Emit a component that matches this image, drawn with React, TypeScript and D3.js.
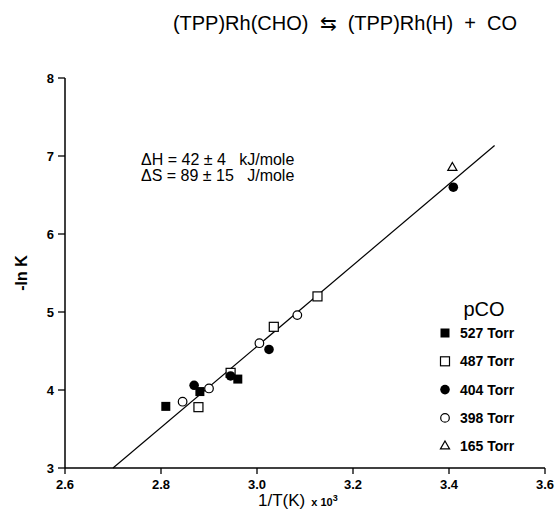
import React from "react";
import * as d3 from "d3";

const xTicks = [2.6, 2.8, 3.0, 3.2, 3.4, 3.6];
const yTicks = [3, 4, 5, 6, 7, 8];

const sq527X = [2.81, 2.881, 2.96];
const sq527Y = [3.79, 3.98, 4.14];
const sq487X = [2.878, 2.945, 3.035, 3.126];
const sq487Y = [3.78, 4.22, 4.81, 5.2];
const fc404X = [2.869, 2.945, 3.025, 3.409];
const fc404Y = [4.06, 4.18, 4.52, 6.6];
const oc398X = [2.845, 2.9, 3.005, 3.084];
const oc398Y = [3.85, 4.02, 4.6, 4.96];
const tri165X = [3.407];
const tri165Y = [6.85];

const fitX = [2.7, 3.495];
const fitY = [3.0, 7.134];

const legendLabels = ["527 Torr", "487 Torr", "404 Torr", "398 Torr", "165 Torr"];
const legendKinds = ["fsq", "osq", "fci", "oci", "tri"];

const FONT = "'Liberation Sans', Arial, sans-serif";

function Marker({ kind, cx, cy }: { kind: string; cx: number; cy: number }) {
  const s = 9;
  if (kind === "fsq")
    return <rect x={cx - s / 2} y={cy - s / 2} width={s} height={s} fill="#000" />;
  if (kind === "osq")
    return <rect x={cx - s / 2} y={cy - s / 2} width={s} height={s} fill="#fff" stroke="#000" strokeWidth={1.2} />;
  if (kind === "fci") return <circle cx={cx} cy={cy} r={4.8} fill="#000" />;
  if (kind === "oci") return <circle cx={cx} cy={cy} r={4.3} fill="#fff" stroke="#000" strokeWidth={1.2} />;
  const sym = d3.symbol().type(d3.symbolTriangle).size(36)();
  return <path d={sym as string} transform={`translate(${cx},${cy})`} fill="#fff" stroke="#000" strokeWidth={1.2} />;
}

export default function App() {
  const x = d3.scaleLinear().domain([2.6, 3.6]).range([65, 545]);
  const y = d3.scaleLinear().domain([3, 8]).range([468, 78]);
  const line = d3.line<number>().x((d, i) => x(fitX[i])).y((d, i) => y(fitY[i]));

  const series: { kind: string; xs: number[]; ys: number[] }[] = [
    { kind: "oci", xs: oc398X, ys: oc398Y },
    { kind: "osq", xs: sq487X, ys: sq487Y },
    { kind: "fci", xs: fc404X, ys: fc404Y },
    { kind: "fsq", xs: sq527X, ys: sq527Y },
    { kind: "tri", xs: tri165X, ys: tri165Y },
  ];

  return (
    <svg width={555} height={512} style={{ position: "absolute", left: 0, top: 0, background: "#fff" }}>
      <rect width={555} height={512} fill="#fff" />
      <text x={345} y={30} textAnchor="middle" fontFamily={FONT} fontSize={20} fill="#000" style={{ whiteSpace: "pre" }}>
        {"(TPP)Rh(CHO)  ⇆  (TPP)Rh(H)  +  CO"}
      </text>
      {/* axes */}
      <line x1={x(2.6)} x2={x(3.6)} y1={y(3)} y2={y(3)} stroke="#000" strokeWidth={1.5} />
      <line x1={x(2.6)} x2={x(2.6)} y1={y(3)} y2={y(8)} stroke="#000" strokeWidth={1.5} />
      {xTicks.map((t) => (
        <g key={"xt" + t}>
          <line x1={x(t)} x2={x(t)} y1={y(3)} y2={y(3) + 6} stroke="#000" strokeWidth={1.3} />
          <text x={x(t)} y={y(3) + 21} textAnchor="middle" fontFamily={FONT} fontSize={13} fontWeight="bold">
            {d3.format(".1f")(t)}
          </text>
        </g>
      ))}
      {yTicks.map((t) => (
        <g key={"yt" + t}>
          <line x1={x(2.6) - 7} x2={x(2.6)} y1={y(t)} y2={y(t)} stroke="#000" strokeWidth={1.3} />
          <text x={x(2.6) - 11} y={y(t) + 5} textAnchor="end" fontFamily={FONT} fontSize={13} fontWeight="bold">
            {t}
          </text>
        </g>
      ))}
      <text transform={`translate(27,${(y(3) + y(8)) / 2}) rotate(-90)`} textAnchor="middle" fontFamily={FONT} fontSize={16} fontWeight="bold">
        -ln K
      </text>
      <text x={258} y={506} fontFamily={FONT} fontSize={17}>
        1/T(K)
        <tspan dx={6} fontSize={11} fontWeight="bold">x 10</tspan>
        <tspan fontSize={9} fontWeight="bold" dy={-5}>3</tspan>
      </text>
      {/* fit line */}
      <path d={line(fitX) as string} fill="none" stroke="#000" strokeWidth={1.2} />
      {/* points */}
      {series.map((s) =>
        s.xs.map((v, i) => <Marker key={s.kind + i} kind={s.kind} cx={x(v)} cy={y(s.ys[i])} />)
      )}
      {/* annotation */}
      <text x={141} y={165} fontFamily={FONT} fontSize={16} style={{ whiteSpace: "pre" }}>{"ΔH = 42 ± 4   kJ/mole"}</text>
      <text x={141} y={181} fontFamily={FONT} fontSize={16} style={{ whiteSpace: "pre" }}>{"ΔS = 89 ± 15   J/mole"}</text>
      {/* legend */}
      <text x={484} y={316} textAnchor="middle" fontFamily={FONT} fontSize={20}>pCO</text>
      {legendLabels.map((lab, i) => (
        <g key={lab}>
          <Marker kind={legendKinds[i]} cx={445} cy={333 + i * 28.3} />
          <text x={460} y={333 + i * 28.3 + 5} fontFamily={FONT} fontSize={14} fontWeight="bold">
            {lab}
          </text>
        </g>
      ))}
    </svg>
  );
}
